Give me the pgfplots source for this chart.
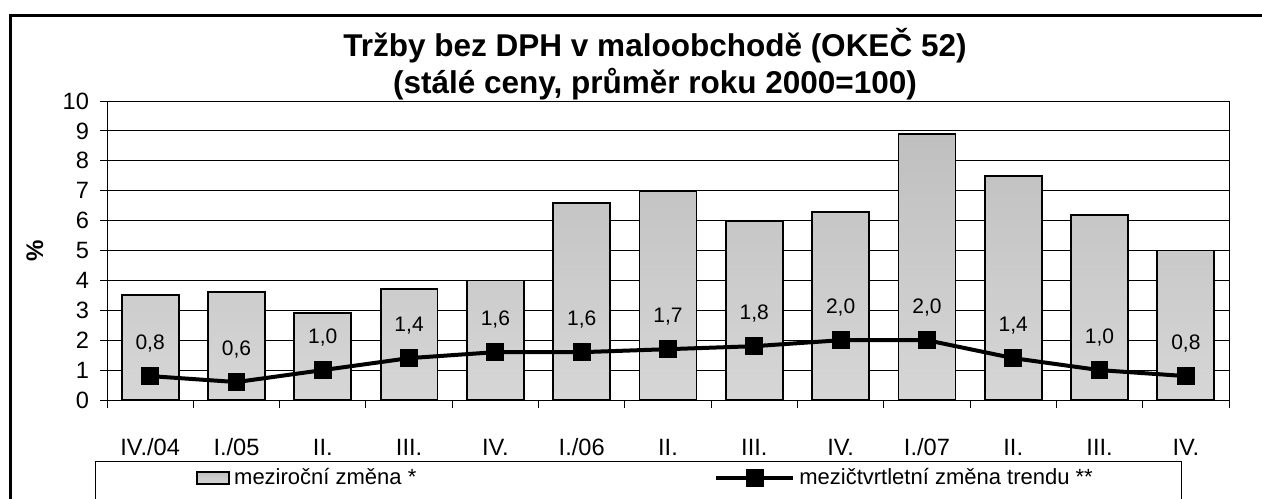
\documentclass[border=0pt]{standalone}
\usepackage{fontspec}
\setmainfont{Liberation Sans}
\usepackage{pgfplots}
\pgfplotsset{compat=1.18}
\pgfplotsset{
  barimg/.style={legend image code/.code={\draw[##1] (0pt,-3pt) rectangle (16pt,3pt);}},
  lineimg/.style={legend image code/.code={\draw[mark repeat=2, mark phase=2, ##1] plot coordinates {(0pt,0pt) (19.25pt,0pt) (38.5pt,0pt)};}},
}

\begin{document}
\begin{tikzpicture}
% page = 1262 x 498 px, 1 px = 0.5pt
\useasboundingbox (0,0) rectangle (631pt,-249pt);
\clip (0,0) rectangle (631pt,-249pt);
\fill[white] (0,0) rectangle (631pt,-249pt);

\begin{axis}[
  at={(53.5pt,-200pt)}, anchor=south west,
  scale only axis,
  width=561pt, height=149.5pt,
  xmin=-0.5, xmax=12.5,
  ymin=0, ymax=10,
  ytick={0,1,...,10},
  xtick={0,...,12},
  xticklabels={IV./04,I./05,II.,III.,IV.,I./06,II.,III.,IV.,I./07,II.,III.,IV.},
  minor xtick={-0.5,0.5,...,12.5},
  xtick pos=bottom, ytick pos=left,
  tick align=outside,
  major tick length=3.5pt,
  minor tick length=4pt,
  major x tick style={draw=none},
  every tick/.style={black, line width=0.5pt},
  minor x tick style={black, line width=0.5pt},
  ymajorgrids,
  grid style={black, line width=0.5pt},
  axis line style={line width=0.5pt},
  tick label style={font=\fontsize{11.8}{13}\selectfont},
  yticklabel style={xshift=-2pt},
  xticklabel style={anchor=base, yshift=-24pt},
  /pgf/number format/assume math mode=true,
  ylabel={\textbf{\%}},
  ylabel style={at={(axis description cs:-0.0642,0.5)}, anchor=center, font=\fontsize{12}{13}\selectfont},
  legend style={at={(axis description cs:0.0793,-0.261)}, anchor=west,
    draw=none, fill=none, inner sep=0pt, legend columns=2,
    font=\fontsize{11}{13}\selectfont,
    /tikz/every even column/.append style={column sep=147pt}},
  clip=false,
]
\addplot[ybar, bar width=0.66, draw=black, line width=0.9pt,
  top color=black!25, bottom color=black!16, barimg]
  coordinates {(0,3.5) (1,3.6) (2,2.9) (3,3.7) (4,4.0) (5,6.6) (6,7.0)
               (7,6.0) (8,6.3) (9,8.9) (10,7.5) (11,6.2) (12,5.0)};
\addlegendentry{meziroční změna *}

\addplot[black, line width=2pt, mark=square*, mark size=4.2pt,
  mark options={solid, line width=0.5pt}, lineimg,
  nodes near coords,
  every node near coord/.append style={anchor=center, yshift=16.5pt, black,
    font=\fontsize{10.5}{12}\selectfont},
  /pgf/number format/.cd, fixed, fixed zerofill, precision=1, use comma, assume math mode=true]
  coordinates {(0,0.8) (1,0.6) (2,1.0) (3,1.4) (4,1.6) (5,1.6) (6,1.7)
               (7,1.8) (8,2.0) (9,2.0) (10,1.4) (11,1.0) (12,0.8)};
\addlegendentry{mezičtvrtletní změna trendu **}
\end{axis}

% title
\node[align=center, font=\fontsize{15.75}{18.5}\selectfont\bfseries] at (327.5pt,-32pt)
  {Tržby bez DPH v maloobchodě (OKEČ 52)\\(stálé ceny, průměr roku 2000=100)};
% legend box
\draw[black, line width=0.5pt] (47.5pt,-230.5pt) rectangle (590.5pt,-262pt);
% outer frame
\draw[black, line width=1.5pt] (5.25pt,-7.5pt) rectangle (640pt,-262pt);
\end{tikzpicture}
\end{document}
